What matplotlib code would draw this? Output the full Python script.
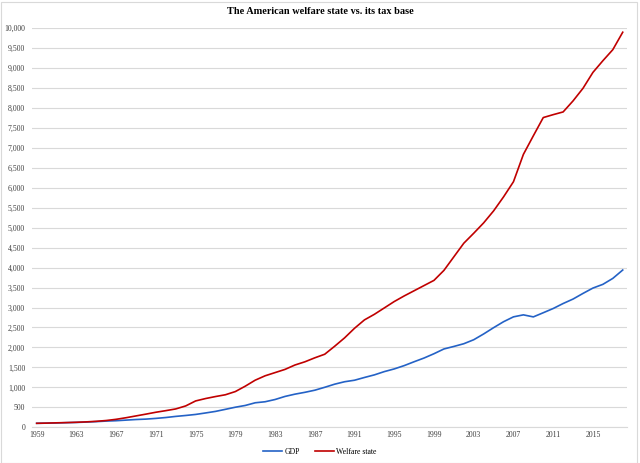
import numpy as np
import matplotlib
matplotlib.use("Agg")
import matplotlib.pyplot as plt
from matplotlib.patches import Rectangle
from matplotlib.ticker import FuncFormatter

# index values, 1959 = 100
years = list(range(1959, 2019))
gdp = [100, 104, 108, 116, 122, 131, 142, 156, 165, 180,
       195, 205, 223, 245, 273, 296, 322, 359, 398, 450,
       503, 547, 614, 640, 696, 773, 830, 876, 929, 1002,
       1080, 1141, 1179, 1248, 1313, 1395, 1462, 1545, 1642, 1735,
       1843, 1962, 2025, 2093, 2193, 2338, 2495, 2644, 2766, 2816,
       2765, 2869, 2975, 3100, 3212, 3353, 3487, 3580, 3729, 3939]
welfare = [100, 105, 112, 118, 126, 136, 150, 170, 200, 240,
           285, 330, 377, 417, 460, 535, 660, 720, 770, 815,
           895, 1030, 1180, 1290, 1370, 1450, 1560, 1640, 1740, 1830,
           2030, 2240, 2480, 2690, 2830, 2990, 3150, 3290, 3420, 3550,
           3680, 3930, 4270, 4610, 4860, 5120, 5420, 5770, 6150, 6835,
           7300, 7757, 7830, 7898, 8175, 8490, 8888, 9180, 9457, 9894]
x_ticks = list(range(1959, 2016, 4))

BLUE = '#2462c6'
RED = '#c00000'
GRID = '#d9d9d9'

plt.rcParams['font.family'] = ['Liberation Serif', 'DejaVu Serif']

fig = plt.figure(figsize=(6.4, 4.63), dpi=100)
ax = fig.add_axes([32/640, 1 - 427.3/463, (627 - 32)/640, (427.3 - 28)/463])

ax.plot(years, gdp, color=BLUE, lw=1.2, label='GDP')
ax.plot(years, welfare, color=RED, lw=1.2, label='Welfare state')

ax.set_xlim(1958.53, 2018.43)
ax.set_ylim(0, 10000)
ax.set_yticks(np.arange(0, 10001, 500))
ax.set_xticks(x_ticks)
ax.yaxis.set_major_formatter(FuncFormatter(lambda v, p: f'{int(v):,}'))
ax.grid(axis='y', color=GRID, lw=0.8)
ax.set_axisbelow(True)
for s in ['left', 'right', 'top']:
    ax.spines[s].set_visible(False)
ax.spines['bottom'].set_color(GRID)
ax.spines['bottom'].set_linewidth(0.8)
ax.tick_params(axis='both', length=0, labelsize=5.6, colors='#404040')
ax.tick_params(axis='y', pad=5)
ax.tick_params(axis='x', pad=3)

fig.text(0.5, 1 - 11/463, 'The American welfare state vs. its tax base',
         ha='center', va='center', fontsize=7.4, fontweight='bold')

fig.legend(loc='center', bbox_to_anchor=(0.5, 1 - 452/463), ncol=2,
           frameon=False, fontsize=5.6, handlelength=2.4, columnspacing=2.0,
           handletextpad=0.3)

fig.patches.append(Rectangle((0.5/640, 0.5/463), 636/640, 461/463,
                             transform=fig.transFigure, fill=False,
                             edgecolor=GRID, lw=0.8))

fig.savefig('out.png', dpi=100)
